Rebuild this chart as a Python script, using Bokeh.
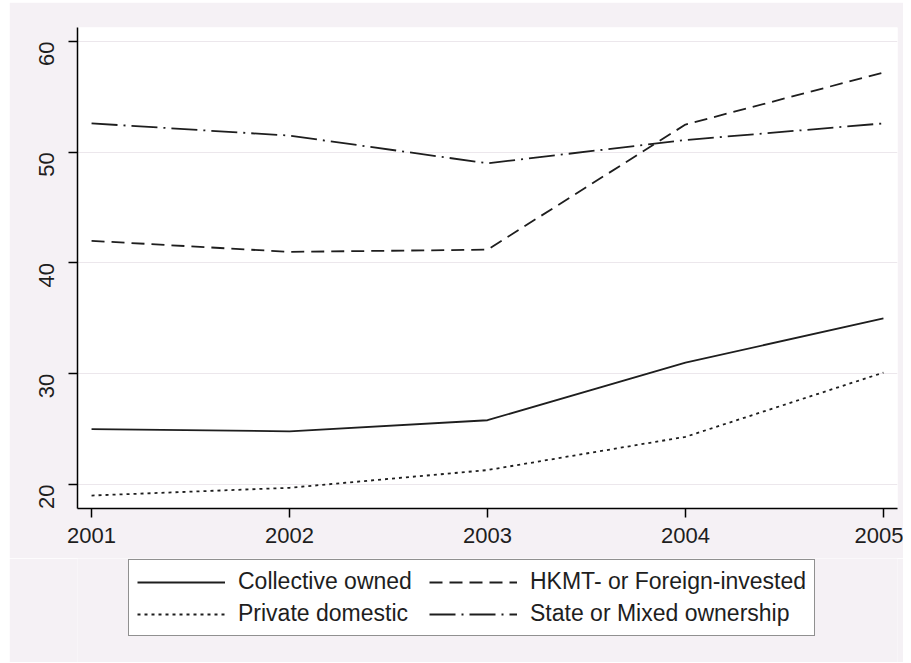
from bokeh.plotting import figure
from bokeh.models import Legend, LegendItem, FixedTicker, Range1d
from bokeh.layouts import column
from bokeh.embed import file_html
from bokeh.resources import INLINE
import math

years = [2001, 2002, 2003, 2004, 2005]
collective = [25.0, 24.8, 25.8, 31.0, 35.0]
private = [19.0, 19.7, 21.3, 24.3, 30.1]
hkmt = [42.0, 41.0, 41.2, 52.5, 57.2]
state = [52.6, 51.5, 49.0, 51.1, 52.6]

labels = ["Collective owned", "Private domestic", "HKMT- or Foreign-invested", "State or Mixed ownership"]
y_ticks = [20, 30, 40, 50, 60]

FONT = "Liberation Sans"
BG = "#F5F1F5"
INK = "#1e1e1e"
LW = 1.8
DASHES = ["solid", "3 4", "13 7", "26 6 2 6"]
SERIES = [collective, private, hkmt, state]

# main chart
p = figure(output_backend="svg", toolbar_location=None,
           width=894, height=556,
           min_border_left=68, min_border_right=6, min_border_top=25, min_border_bottom=50,
           x_range=Range1d(2000.929, 2005.071), y_range=Range1d(17.83, 61.26))
p.margin = (2, 8, 0, 9)
p.background_fill_color = "white"
p.border_fill_color = BG
p.outline_line_color = None

p.xgrid.grid_line_color = None
p.ygrid.grid_line_color = "#ECE7EC"
p.ygrid.ticker = FixedTicker(ticks=y_ticks)

for ax in (p.xaxis[0], p.yaxis[0]):
    ax.axis_line_color = "black"
    ax.axis_line_width = 1.5
    ax.major_tick_line_color = "black"
    ax.major_tick_line_width = 1.5
    ax.major_tick_out = 9
    ax.major_tick_in = 0
    ax.minor_tick_line_color = None
    ax.major_label_text_font = FONT
    ax.major_label_text_font_size = "22px"
    ax.major_label_text_color = INK

p.xaxis.ticker = FixedTicker(ticks=years)
p.xaxis.major_label_standoff = 10
p.yaxis.ticker = FixedTicker(ticks=y_ticks)
p.yaxis.major_label_orientation = math.pi / 2
p.yaxis.major_label_standoff = 22

for ys, dash in zip(SERIES, DASHES):
    p.line(years, ys, line_color=INK, line_width=LW, line_dash=dash)

# legend strip (proxies of the same series, out of view)
p2 = figure(output_backend="svg", toolbar_location=None,
            width=894, height=104,
            min_border_left=0, min_border_right=0, min_border_top=0, min_border_bottom=0,
            x_axis_type=None, y_axis_type=None,
            x_range=Range1d(0, 1), y_range=Range1d(0, 1))
p2.margin = (0, 8, 1, 9)
p2.background_fill_color = BG
p2.border_fill_color = BG
p2.outline_line_color = None
p2.xgrid.grid_line_color = None
p2.ygrid.grid_line_color = None

proxies = [p2.line(years, ys, line_color=INK, line_width=LW, line_dash=dash)
           for ys, dash in zip(SERIES, DASHES)]

order = [0, 2, 1, 3]
items = [LegendItem(label=labels[i], renderers=[proxies[i]]) for i in order]
legend = Legend(items=items, orientation="horizontal", ncols=2,
                location=(51, 26),
                glyph_width=88, glyph_height=20, label_standoff=13, label_width=186,
                spacing=5, padding=8, margin=0,
                label_text_font=FONT, label_text_font_size="23px", label_text_color=INK,
                border_line_color="#222222", border_line_width=1.5,
                background_fill_color="white", background_fill_alpha=1.0)
p2.add_layout(legend, "center")

layout = column(p, p2, spacing=0)
open("out.html", "w").write(file_html(layout, INLINE))
